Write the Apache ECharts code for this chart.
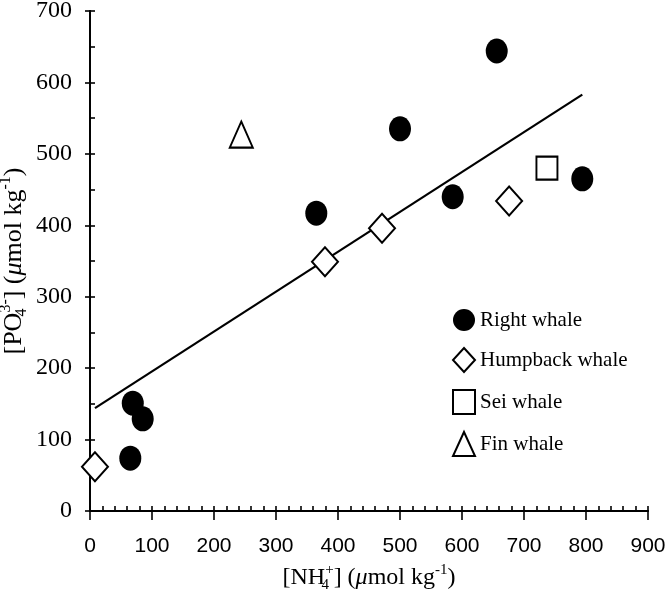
<!DOCTYPE html>
<html>
<head>
<meta charset="utf-8">
<script src="https://cdn.jsdelivr.net/npm/echarts@6/dist/echarts.min.js"></script>
<style>
  html, body { margin: 0; padding: 0; background: #fff; }
  #chart { width: 670px; height: 599px; }
</style>
</head>
<body>
<div id="chart"></div>
<script>
// values: [NH4+, PO4 3-]
var rightWhale = [[69, 151], [85, 129], [65, 74], [365, 417], [500, 535], [585, 440], [656, 644], [794, 465]]
var humpbackWhale = [[8, 62], [379, 349], [471, 396], [676, 434]]
var seiWhale = [[737, 480]]
var finWhale = [[244, 527]]
var trendLine = [[8, 144], [794, 583]]
var legendNames = ['Right whale', 'Humpback whale', 'Sei whale', 'Fin whale']

var serif = 'Liberation Serif'
var sans = 'Liberation Sans'

var chart = echarts.init(document.getElementById('chart'))

var axisLine = { show: true, lineStyle: { color: '#000', width: 1.8 } }
var tickLine = { color: '#000', width: 1.6 }

// sub has zero width so the following sup sits right above it
function nameRich(size) {
  var small = Math.round(size * 0.62)
  return {
    sub: { fontFamily: serif, fontSize: small, verticalAlign: 'bottom', color: '#000', width: 0, align: 'left' },
    sup: { fontFamily: serif, fontSize: small, verticalAlign: 'top', color: '#000' },
    mu: { fontFamily: serif, fontSize: size, fontStyle: 'italic', color: '#000' }
  }
}

var option = {
  animation: false,
  grid: { left: 90, right: 22, top: 11, bottom: 88, outerBoundsMode: 'none', containLabel: false },
  legend: {
    data: legendNames,
    orient: 'vertical',
    left: 447,
    top: 304,
    itemWidth: 22,
    itemHeight: 24,
    itemGap: 16,
    textStyle: { fontFamily: serif, fontSize: 21, color: '#000' }
  },
  xAxis: [
    {
      type: 'value', min: 0, max: 900, interval: 100,
      axisLine: axisLine,
      axisTick: { show: true, inside: false, length: 9, lineStyle: tickLine },
      axisLabel: { fontFamily: sans, fontSize: 21, color: '#000', margin: 25 },
      splitLine: { show: false },
      name: '[NH{sub|4}{sup|+}] ({mu|μ}mol kg{sup|-1})',
      nameLocation: 'middle',
      nameGap: 52,
      nameMoveOverlap: false,
      nameTextStyle: { fontFamily: serif, fontSize: 24, color: '#000', lineHeight: 30, rich: nameRich(24) }
    },
    {
      type: 'value', min: 0, max: 900, interval: 100, position: 'bottom',
      axisLine: axisLine,
      axisTick: { show: true, inside: true, length: 5, lineStyle: tickLine },
      minorTick: { show: true, splitNumber: 5, length: 5, lineStyle: tickLine },
      axisLabel: { show: false },
      splitLine: { show: false }
    }
  ],
  yAxis: [
    {
      type: 'value', min: 0, max: 700, interval: 100,
      axisLine: axisLine,
      axisTick: { show: true, inside: false, length: 5, lineStyle: tickLine },
      axisLabel: { fontFamily: serif, fontSize: 24, color: '#000', margin: 18 },
      splitLine: { show: false },
      name: '[PO{sub|4}{sup|3-}] ({mu|μ}mol kg{sup|-1})',
      nameLocation: 'middle',
      nameRotate: 90,
      nameGap: 60,
      nameMoveOverlap: false,
      nameTextStyle: { fontFamily: serif, fontSize: 26, color: '#000', lineHeight: 32, rich: nameRich(26) }
    },
    {
      type: 'value', min: 0, max: 700, interval: 100, position: 'left',
      axisLine: axisLine,
      axisTick: { show: true, inside: true, length: 5, lineStyle: tickLine },
      minorTick: { show: true, splitNumber: 2, length: 5, lineStyle: tickLine },
      axisLabel: { show: false },
      splitLine: { show: false }
    }
  ],
  series: [
    {
      name: 'trend',
      type: 'line',
      data: trendLine,
      symbol: 'none',
      lineStyle: { color: '#000', width: 2.2 },
      silent: true,
      z: 1
    },
    {
      name: 'Right whale',
      type: 'scatter',
      data: rightWhale,
      symbol: 'circle',
      symbolSize: [22, 25],
      itemStyle: { color: '#000', opacity: 1 },
      z: 3
    },
    {
      name: 'Humpback whale',
      type: 'scatter',
      data: humpbackWhale,
      symbol: 'diamond',
      symbolSize: [26, 29],
      itemStyle: { color: '#fff', borderColor: '#000', borderWidth: 2, opacity: 1 },
      z: 3
    },
    {
      name: 'Sei whale',
      type: 'scatter',
      data: seiWhale,
      symbol: 'rect',
      symbolSize: [21, 23],
      itemStyle: { color: '#fff', borderColor: '#000', borderWidth: 2, opacity: 1 },
      z: 3
    },
    {
      name: 'Fin whale',
      type: 'scatter',
      data: finWhale,
      symbol: 'triangle',
      symbolSize: [23, 26],
      itemStyle: { color: '#fff', borderColor: '#000', borderWidth: 2, opacity: 1 },
      z: 3
    }
  ]
}

chart.setOption(option)
</script>
</body>
</html>
